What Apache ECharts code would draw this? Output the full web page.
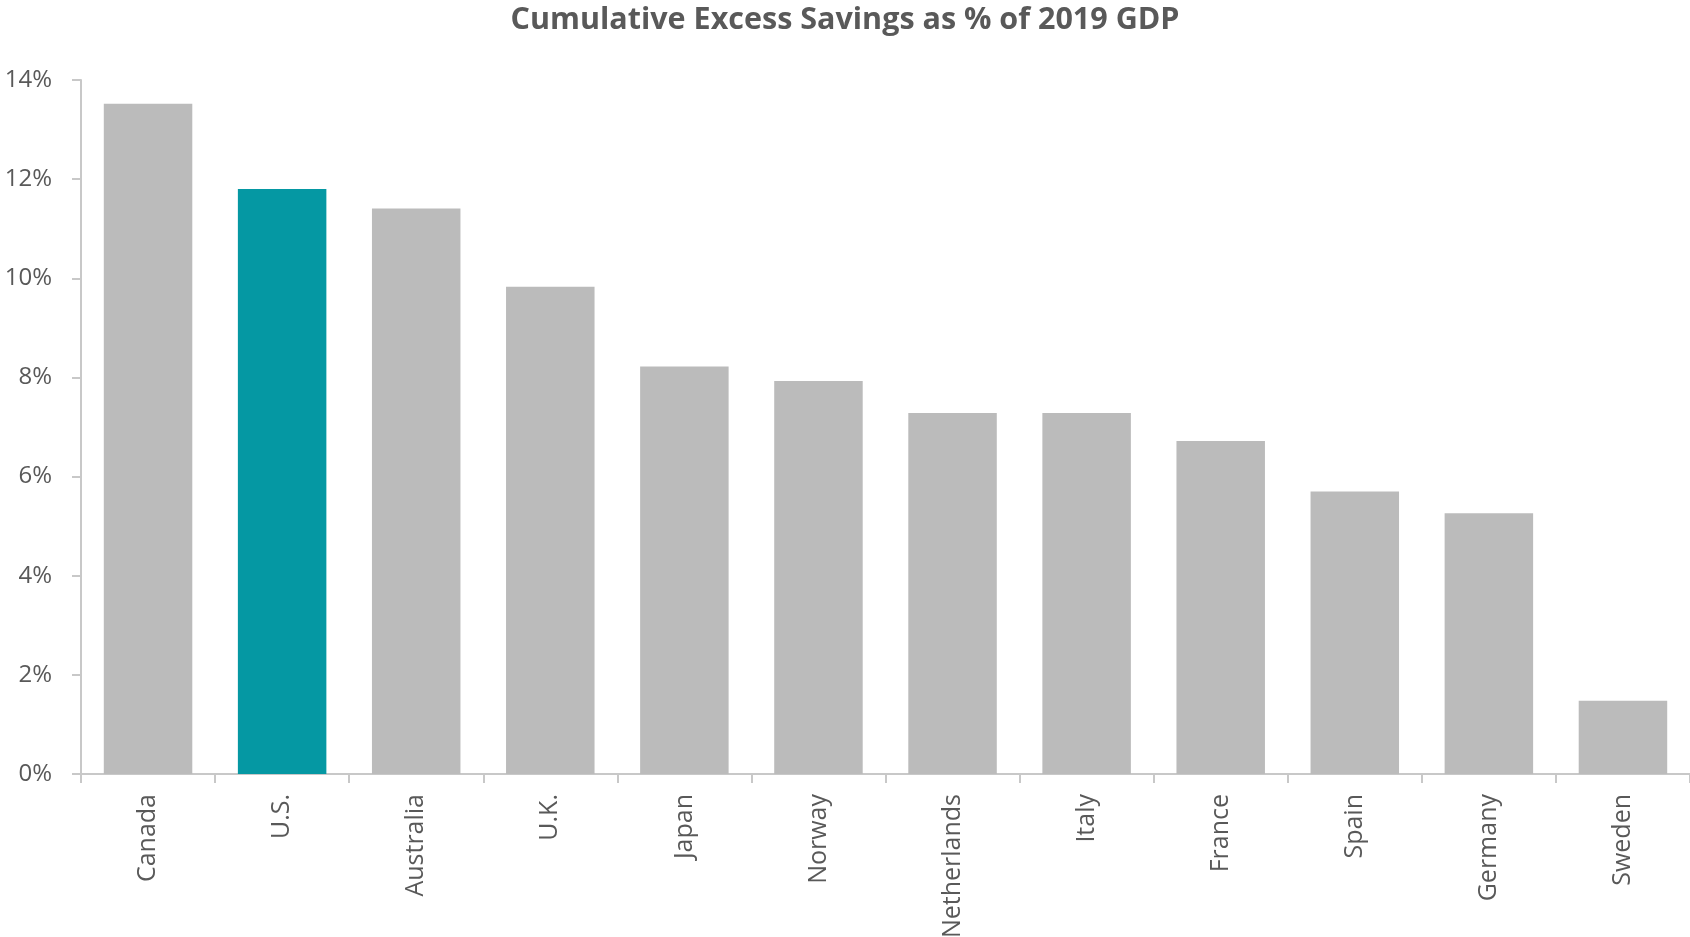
<!DOCTYPE html>
<html>
<head>
<meta charset="utf-8">
<script src="https://cdn.jsdelivr.net/npm/echarts@6/dist/echarts.min.js"></script>
<style>
html,body{margin:0;padding:0;background:#fff;}
#chart{width:1690px;height:937px;}
</style>
</head>
<body>
<div id="chart"></div>
<script>
const categories = ["Canada","U.S.","Australia","U.K.","Japan","Norway","Netherlands","Italy","France","Spain","Germany","Sweden"];
const values = [13.52, 11.80, 11.41, 9.83, 8.22, 7.93, 7.28, 7.28, 6.72, 5.70, 5.26, 1.48];
const highlight = "U.S.";
const titleText = "Cumulative Excess Savings as % of 2019 GDP";

const chart = echarts.init(document.getElementById('chart'));
const FONT = '"Open Sans", "Noto Sans", sans-serif';
chart.setOption({
  animation: false,
  backgroundColor: '#ffffff',
  title: {
    text: titleText,
    left: 'center',
    top: 0,
    textStyle: { fontFamily: FONT, fontWeight: 'bold', fontSize: 30.5, color: '#595959' }
  },
  grid: { left: 81, right: 0, top: 80, bottom: 163, containLabel: false, outerBoundsMode: 'none' },
  xAxis: {
    type: 'category',
    data: categories,
    axisLine: { lineStyle: { color: '#c8c8c8', width: 2 } },
    axisTick: { show: true, length: 9, alignWithLabel: false, lineStyle: { color: '#c8c8c8', width: 2 } },
    axisLabel: { rotate: 90, margin: 20, fontFamily: FONT, fontSize: 25, color: '#595959' }
  },
  yAxis: {
    type: 'value',
    min: 0, max: 14, interval: 2,
    splitLine: { show: false },
    axisLine: { show: true, lineStyle: { color: '#c8c8c8', width: 2 } },
    axisTick: { show: true, length: 9, lineStyle: { color: '#c8c8c8', width: 2 } },
    axisLabel: { margin: 29, fontFamily: FONT, fontSize: 24, color: '#595959', formatter: v => v + '%' }
  },
  series: [{
    type: 'bar',
    data: values.map((v, i) => ({ value: v, itemStyle: { color: categories[i] === highlight ? '#0598A3' : '#BBBBBB' } })),
    barCategoryGap: '34%'
  }]
});
</script>
</body>
</html>
